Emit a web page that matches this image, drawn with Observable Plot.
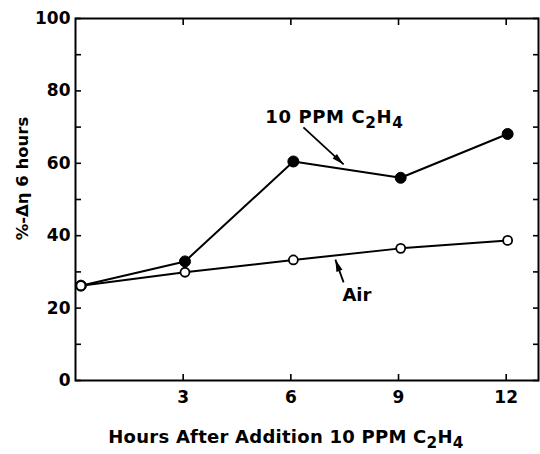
<!DOCTYPE html>
<html>
<head>
<meta charset="utf-8">
<script src="https://cdn.jsdelivr.net/npm/d3@7"></script>
<script src="https://cdn.jsdelivr.net/npm/@observablehq/plot@0.6"></script>
<style>
  html, body { margin: 0; padding: 0; background: #fff; }
  #chart { width: 540px; height: 454px; }
</style>
</head>
<body>
<div id="chart"></div>
<script>
// ---- data ----
const hours = [0.15, 3.05, 6.07, 9.06, 12.04];
const ethylene = [26.2, 32.9, 60.5, 56.0, 68.1];   // 10 PPM C2H4 (filled)
const air = [26.2, 29.9, 33.3, 36.5, 38.7];        // Air (open)
const yTickLabels = [0, 20, 40, 60, 80, 100];
const yTicksAll = [0, 10, 20, 30, 40, 50, 60, 70, 80, 90, 100];
const xTickLabels = [3, 6, 9, 12];
const xTitle = "Hours After Addition 10 PPM C2H4";
const yTitle = "%-Δη 6 hours";
const seriesLabels = ["10 PPM C2H4", "Air"];
// annotation positions in data units (hours, %)
const labelX = [5.29, 7.84];
const labelY = [72.6, 23.6];
const arrowX1 = [6.35, 7.47];
const arrowY1 = [69.9, 27.1];
const arrowX2 = [7.47, 7.24];
const arrowY2 = [59.7, 33.4];

const W = 540, H = 454, ML = 75, MR = 2, MT = 18, MB = 74;
const xDomain = [0, 12.9], yDomain = [0, 100];
const kx = (W - ML - MR) / (xDomain[1] - xDomain[0]);
const ky = (H - MT - MB) / (yDomain[1] - yDomain[0]);

const ethRows = hours.map((h, i) => ({h, v: ethylene[i]}));
const airRows = hours.map((h, i) => ({h, v: air[i]}));
const labels = seriesLabels.map((t, i) => ({t, x: labelX[i], y: labelY[i]}));
const arrows = arrowX1.map((x1, i) => {
  const dxp = (arrowX2[i] - x1) * kx, dyp = -(arrowY2[i] - arrowY1[i]) * ky;
  const angle = Math.atan2(dxp, -dyp) * 180 / Math.PI; // clockwise from "up"
  return {x1, y1: arrowY1[i], x2: arrowX2[i], y2: arrowY2[i], angle};
});

// narrow filled arrowhead with its tip at the origin, pointing up
const arrowHead = {
  draw(context) {
    context.moveTo(0, 0);
    context.lineTo(3.2, 12);
    context.lineTo(-3.2, 12);
    context.closePath();
  }
};

const FONT = "DejaVu Sans";
const chart = Plot.plot({
  width: W,
  height: H,
  marginLeft: ML,
  marginRight: MR,
  marginTop: MT,
  marginBottom: MB,
  style: {fontFamily: FONT, fontWeight: "bold", fontSize: "17px", color: "black", background: "white"},
  x: {domain: xDomain},
  y: {domain: yDomain},
  marks: [
    Plot.frame({stroke: "black", strokeWidth: 2}),
    Plot.axisY(yTickLabels, {tickSize: 0, tickPadding: 5, fontSize: 17, label: null}),
    Plot.axisY(yTicksAll, {tickSize: -6, tickFormat: () => "", label: null, strokeWidth: 1.6}),
    Plot.axisY(yTicksAll, {anchor: "right", tickSize: -6, tickFormat: () => "", label: null, strokeWidth: 1.6}),
    Plot.axisX(xTickLabels, {tickSize: 0, tickPadding: 10, fontSize: 17, label: null}),
    Plot.axisX(xTickLabels, {tickSize: -6, tickFormat: () => "", label: null, strokeWidth: 1.6}),
    Plot.axisX(xTickLabels, {anchor: "top", tickSize: -6, tickFormat: () => "", label: null, strokeWidth: 1.6}),
    Plot.line(ethRows, {x: "h", y: "v", stroke: "black", strokeWidth: 2}),
    Plot.line(airRows, {x: "h", y: "v", stroke: "black", strokeWidth: 2}),
    Plot.dot(ethRows, {x: "h", y: "v", r: 5.5, fill: "black", stroke: "black", strokeWidth: 1}),
    Plot.dot(airRows, {x: "h", y: "v", r: 4.5, fill: "white", stroke: "black", strokeWidth: 1.8}),
    Plot.link(arrows, {x1: "x1", y1: "y1", x2: "x2", y2: "y2", stroke: "black", strokeWidth: 1.8}),
    Plot.dot(arrows, {x: "x2", y: "y2", symbol: arrowHead, rotate: "angle", fill: "black", stroke: "none"}),
    Plot.text(labels.slice(0, 1), {x: "x", y: "y", text: "t", textAnchor: "start", fontSize: 18, fill: "black"}),
    Plot.text(labels.slice(1), {x: "x", y: "y", text: "t", textAnchor: "middle", fontSize: 18, fill: "black"}),
    Plot.text([xTitle], {frameAnchor: "bottom", textAnchor: "middle", lineAnchor: "bottom", dx: -21, dy: 62, fontSize: 18, fill: "black"}),
    Plot.text([yTitle], {frameAnchor: "left", textAnchor: "middle", lineAnchor: "middle", rotate: -90, dx: -53, dy: -21, fontSize: 16.5, fill: "black"})
  ]
});
document.getElementById("chart").appendChild(chart);

// letter spacing for the wide original lettering
d3.select(chart).selectAll("text").each(function() {
  const t = this.textContent;
  if (t === seriesLabels[0]) this.setAttribute("letter-spacing", "0.6");
  if (t === xTitle) this.setAttribute("letter-spacing", "0.25");
});

// render C2H4 with lowered subscripts
d3.select(chart).selectAll("text").each(function() {
  const el = this;
  if (el.children.length === 0 && /C2H4/.test(el.textContent)) {
    const s = el.textContent;
    const i = s.indexOf("C2H4");
    el.textContent = "";
    const sel = d3.select(el);
    sel.append("tspan").text(s.slice(0, i) + "C");
    sel.append("tspan").attr("dy", "5").attr("font-size", "0.85em").text("2");
    sel.append("tspan").attr("dy", "-5").text("H");
    sel.append("tspan").attr("dy", "5").attr("font-size", "0.85em").text("4");
  }
});
</script>
</body>
</html>
